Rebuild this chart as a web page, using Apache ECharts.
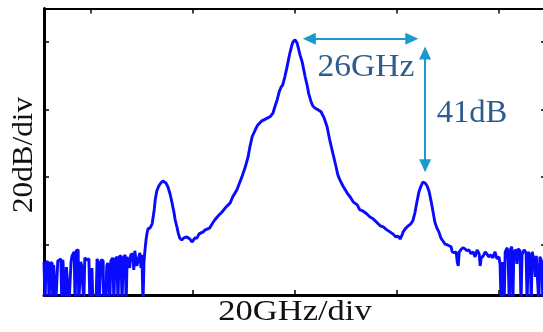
<!DOCTYPE html>
<html>
<head>
<meta charset="utf-8">
<script src="https://cdn.jsdelivr.net/npm/echarts@6/dist/echarts.min.js"></script>
<style>html,body{margin:0;padding:0;background:#fff}#c{width:543px;height:332px}</style>
</head>
<body>
<div id="c"></div>
<script>
// Frequency offset (GHz) and power (dB)
var freq = [
-49.1,-48.9,-48.7,-48.3,-48.1,-47.9,-47.5,-47.4,-47.2,-46.8,-46.4,-46.2,-45.8,-45.6,-45.4,-44.9,-44.7,-44.4,-44.2,-43.8,
-43.6,-43.2,-43.0,-42.8,-42.4,-42.3,-41.9,-41.7,-41.3,-41.1,-40.7,-40.3,-40.1,-39.7,-39.5,-38.9,-38.7,-38.5,-38.3,-37.9,
-37.5,-37.4,-37.0,-36.8,-36.6,-36.2,-36.0,-35.6,-35.4,-35.2,-34.8,-34.6,-34.4,-34.0,-33.8,-33.6,-33.2,-33.0,-32.8,-32.5,
-32.3,-32.1,-31.7,-31.5,-31.3,-31.1,-30.9,-30.7,-30.5,-30.3,-30.1,-29.9,-29.7,
-29.5,-29.3,-29.1,-28.9,-28.7,-28.3,-27.9,-27.5,-27.3,-27.0,-26.6,-26.2,-25.8,-25.6,-25.2,-24.8,-24.4,-24.0,-23.6,-23.4,
-23.0,-22.8,-22.5,-22.1,-21.7,-21.1,-20.5,-20.1,-19.5,-19.1,-18.7,-18.3,-17.9,-17.5,-17.0,-16.6,-16.0,-15.6,-14.8,-14.2,
-13.4,-12.6,-12.1,-11.3,-10.7,-10.3,-9.7,-9.1,-8.7,-8.3,-7.7,-7.2,-6.4,-5.6,-4.8,-4.2,-3.8,-3.4,-3.0,-2.6,
-2.3,-1.9,-1.5,-1.1,-0.9,-0.5,-0.3,0.1,0.5,0.7,1.1,1.5,1.7,2.1,2.5,2.8,3.2,3.6,4.0,4.6,
5.2,5.8,6.4,6.9,7.5,8.1,8.5,8.9,9.5,10.3,10.9,11.5,12.3,12.8,13.4,14.2,14.8,15.4,16.2,16.8,
17.4,18.1,18.7,19.3,19.9,20.3,20.7,21.1,21.3,21.7,22.3,22.8,23.2,23.6,24.0,24.4,24.8,25.2,25.6,26.0,
26.4,26.8,27.2,27.5,27.9,28.3,28.7,29.1,29.5,29.9,30.3,30.7,30.9,31.3,31.7,31.9,32.1,32.3,32.6,33.0,
33.4,33.8,34.2,34.6,35.0,35.4,35.8,36.2,36.4,36.6,37.0,37.4,37.7,38.1,38.5,38.9,39.3,39.7,40.1,40.3,
40.5,40.7,40.9,41.1,41.3,41.7,41.9,42.1,42.3,42.6,42.8,43.0,43.4,43.6,43.8,44.2,44.4,44.6,45.0,45.4,
45.6,45.8,46.2,46.4,46.6,47.0,47.2,47.4,47.7,47.9,48.1,48.5,48.7,49.1
];
var power = [
-85.2,-98,-85.2,-85.2,-98,-85.5,-85.5,-98,-86.1,-98,-84.9,-84.6,-84.3,-98,-84.6,-98,-86.7,-87.0,-98,-85.2,
-83.4,-82.2,-98,-81.9,-81.6,-98,-85.2,-86.4,-98,-84.0,-84.6,-84.3,-98,-87.0,-98,-98,-84.3,-85.2,-98,-84.6,
-84.9,-98,-98,-86.4,-85.5,-98,-84.9,-84.0,-98,-84.6,-83.7,-98,-83.7,-83.4,-98,-84.3,-83.1,-98,-83.7,-83.4,
-87.0,-83.1,-82.8,-87.6,-81.9,-81.6,-86.4,-85.2,-83.7,-82.5,-87.0,-83.1,-98,
-85.2,-81.6,-78.7,-76.6,-75.4,-75.1,-73.9,-69.8,-66.8,-64.2,-62.7,-61.8,-61.2,-61.2,-61.8,-63.0,-65.0,-67.7,-70.7,-72.7,
-75.1,-76.6,-78.1,-78.7,-78.1,-77.8,-78.4,-79.3,-78.1,-78.1,-76.9,-76.6,-76.3,-75.7,-75.4,-75.1,-73.6,-72.7,-71.3,-70.4,
-68.9,-67.7,-65.9,-63.9,-61.5,-60.0,-57.3,-54.1,-50.8,-48.1,-46.1,-44.6,-43.4,-42.8,-42.2,-41.0,-39.0,-37.2,-34.8,-33.3,
-32.7,-30.4,-27.7,-24.7,-23.3,-20.9,-20.0,-19.4,-20.3,-21.5,-23.9,-25.9,-27.4,-30.4,-33.0,-35.4,-37.5,-39.0,-39.6,-40.1,
-40.7,-42.5,-45.2,-49.0,-52.9,-56.7,-59.4,-60.9,-62.7,-64.7,-65.9,-67.4,-68.3,-69.8,-70.1,-71.0,-71.9,-72.4,-73.6,-74.5,
-74.8,-75.7,-76.3,-76.9,-77.8,-77.5,-78.4,-77.2,-76.3,-75.4,-74.5,-73.9,-73.0,-70.7,-67.4,-64.4,-62.7,-61.5,-61.8,-62.7,
-64.4,-67.4,-70.7,-73.3,-75.1,-76.3,-78.1,-79.0,-79.9,-80.1,-80.4,-80.7,-82.2,-82.5,-82.2,-85.2,-86.4,-82.2,-81.6,-81.0,
-81.3,-81.9,-81.6,-82.8,-82.2,-83.7,-81.6,-82.8,-86.4,-84.0,-83.4,-82.2,-82.8,-83.7,-83.1,-84.0,-82.2,-84.3,-83.7,-86.1,
-98,-85.2,-87.6,-98,-82.2,-81.0,-85.2,-98,-81.6,-80.7,-98,-82.2,-81.6,-85.8,-81.3,-81.9,-98,-83.1,-81.6,-82.5,
-98,-82.2,-83.4,-98,-82.2,-85.2,-89.6,-83.4,-83.7,-98,-83.7,-85.2,-98,-84.6
];
var xTicks = [-40, -20, 0, 20, 40];
var yTicks = [-80, -60, -40, -20];
var xTitle = '20GHz/div';
var yTitle = '20dB/div';
// annotation: horizontal spacing arrow and vertical suppression arrow (symbol centres)
var spacingArrow = [[2.9, -19.1], [23.0, -19.1]];
var depthArrow = [[25.6, -23.3], [25.6, -56.7]];
var spacingText = '26GHz';
var depthText = '41dB';

var chart = echarts.init(document.getElementById('c'), null, {renderer: 'canvas'});
function xAxisCfg(pos, w) {
  return {
    type: 'value', position: pos, min: -49.1, max: 49.3,
    axisLine: {show: true, onZero: false, lineStyle: {color: '#000', width: w}},
    axisTick: {show: true, inside: true, length: 5, customValues: xTicks, lineStyle: {color: '#000', width: 1.5}},
    axisLabel: {show: false}, splitLine: {show: false}
  };
}
function yAxisCfg(pos, w) {
  return {
    type: 'value', position: pos, min: -95, max: -10.1,
    axisLine: {show: true, onZero: false, lineStyle: {color: '#000', width: w}},
    axisTick: {show: true, inside: true, length: 5, customValues: yTicks, lineStyle: {color: '#000', width: 1.5}},
    axisLabel: {show: false}, splitLine: {show: false}
  };
}
var data = freq.map(function (f, i) { return [f, power[i]]; });
var arrowColor = '#1b9bcc';
var textColor = '#2d5d8c';
chart.setOption({
  animation: false,
  backgroundColor: '#fff',
  grid: {left: 44, top: 8.5, width: 502, height: 286.5, containLabel: false, outerBoundsMode: 'none'},
  xAxis: [xAxisCfg('bottom', 3), xAxisCfg('top', 2)],
  yAxis: [yAxisCfg('left', 3), yAxisCfg('right', 2)],
  series: [{
    type: 'line', data: data, showSymbol: false, clip: true,
    lineStyle: {color: '#0a0aff', width: 2.9},
    markLine: {
      silent: true, symbol: ['triangle', 'triangle'], symbolSize: [12, 13],
      lineStyle: {color: arrowColor, width: 2, type: 'solid'},
      label: {show: false},
      data: [
        [{coord: spacingArrow[0]}, {coord: spacingArrow[1]}],
        [{coord: depthArrow[0]}, {coord: depthArrow[1]}]
      ]
    }
  }],
  graphic: [
    {type: 'text', x: 366, y: 68, scaleX: 1.05, style: {text: spacingText, font: '32px "Liberation Serif"', fill: textColor, align: 'center', verticalAlign: 'middle'}},
    {type: 'text', x: 472, y: 114, scaleX: 1.02, style: {text: depthText, font: '32px "Liberation Serif"', fill: textColor, align: 'center', verticalAlign: 'middle'}},
    {type: 'text', x: 295, y: 312, scaleX: 1.15, style: {text: xTitle, font: '30px "Liberation Serif"', fill: '#111', align: 'center', verticalAlign: 'middle'}},
    {type: 'text', x: 24, y: 155, rotation: Math.PI / 2, scaleX: 1.04, style: {text: yTitle, font: '30px "Liberation Serif"', fill: '#111', align: 'center', verticalAlign: 'middle'}}
  ]
});
</script>
</body>
</html>
